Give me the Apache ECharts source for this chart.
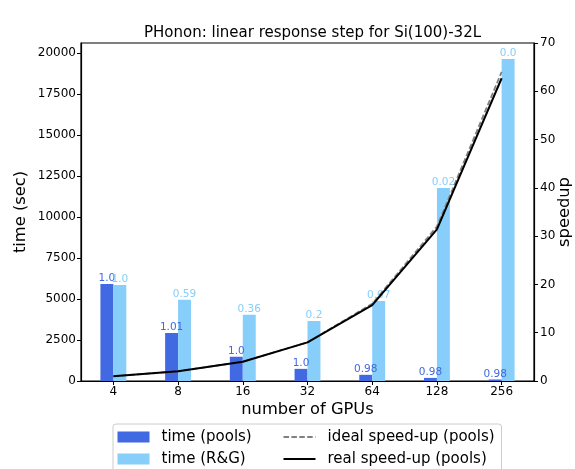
<!DOCTYPE html>
<html>
<head>
<meta charset="utf-8">
<title>PHonon: linear response step for Si(100)-32L</title>
<script src="https://cdn.jsdelivr.net/npm/echarts@6/dist/echarts.min.js"></script>
<style>
  html, body { margin: 0; padding: 0; background: #fff; }
  #chart { width: 575px; height: 469px; }
</style>
</head>
<body>
<div id="chart"></div>
<script>
// Number of GPUs per run
const gpus = ['4', '8', '16', '32', '64', '128', '256'];

// Wall time (s) of the linear response step
const timePools = [5915, 2930, 1480, 740, 377, 189, 94];
const timeRG = [5850, 4950, 4040, 3660, 4880, 11770, 19640];

// Parallel efficiency printed above each bar
const effPools = ['1.0', '1.01', '1.0', '1.0', '0.98', '0.98', '0.98'];
const effRG = ['1.0', '0.59', '0.36', '0.2', '0.07', '0.02', '0.0'];

// Speed-up relative to 4 GPUs
const idealSpeedup = [1, 2, 4, 8, 16, 32, 64];
const realSpeedup = [1, 2.02, 4.0, 8.0, 15.7, 31.4, 62.7];

// Left axis tick values
const timeTicks = [0, 2500, 5000, 7500, 10000, 12500, 15000, 17500, 20000];

const POOLS = '#4169E1';
const RG = '#87CEFA';
const FONT = 'DejaVu Sans';

const chart = echarts.init(document.getElementById('chart'), null, { renderer: 'canvas' });

const axisLineStyle = { show: true, lineStyle: { color: '#000', width: 1.2 } };
const tickStyle = { show: true, inside: false, length: 4, lineStyle: { color: '#000', width: 1 } };
const legendText = { fontFamily: FONT, fontSize: 15, color: '#000', lineHeight: 15, padding: [0, 0, 0, 7] };

chart.setOption({
  animation: false,
  backgroundColor: '#fff',
  textStyle: { fontFamily: FONT, color: '#000' },
  title: {
    text: 'PHonon: linear response step for Si(100)-32L',
    left: 307.5,
    textAlign: 'center',
    top: 21,
    textStyle: { fontFamily: FONT, fontSize: 15, fontWeight: 'normal', color: '#000' }
  },
  grid: {
    left: 81, right: 41, top: 43, bottom: 88,
    containLabel: false,
    outerBoundsMode: 'none',
    show: true, borderColor: '#000', borderWidth: 1.2, backgroundColor: 'transparent'
  },
  graphic: [{
    type: 'rect',
    z: -1,
    shape: { x: 113, y: 424, width: 388.5, height: 60, r: 3 },
    style: { fill: '#fff', stroke: '#cccccc', lineWidth: 1 }
  }],
  legend: [{
    data: ['time (pools)', 'time (R&G)'],
    orient: 'vertical',
    left: 117.5, top: 429.5, height: 60, padding: 0,
    icon: 'rect',
    itemWidth: 32, itemHeight: 11, itemGap: 7,
    textStyle: legendText
  }, {
    data: ['ideal speed-up (pools)', 'real speed-up (pools)'],
    orient: 'vertical',
    left: 282.5, top: 429.5, height: 60, padding: 0,
    itemWidth: 32, itemHeight: 11, itemGap: 7,
    itemStyle: { color: 'transparent', borderColor: 'transparent', borderWidth: 0, opacity: 0 },
    textStyle: legendText
  }],
  xAxis: {
    type: 'category',
    data: gpus,
    boundaryGap: true,
    name: 'number of GPUs',
    nameLocation: 'middle',
    nameGap: 21,
    nameMoveOverlap: false,
    nameTextStyle: { fontFamily: FONT, fontSize: 16.3, color: '#000' },
    axisLine: axisLineStyle,
    axisTick: Object.assign({}, tickStyle, { alignWithLabel: true }),
    axisLabel: { fontFamily: FONT, fontSize: 12, color: '#000', margin: 5 },
    splitLine: { show: false }
  },
  yAxis: [{
    type: 'value',
    min: 0,
    max: 20622,
    position: 'left',
    name: 'time (sec)',
    nameLocation: 'middle',
    nameGap: 52,
    nameRotate: 90,
    nameMoveOverlap: false,
    nameTextStyle: { fontFamily: FONT, fontSize: 16.3, color: '#000' },
    axisLine: axisLineStyle,
    axisTick: Object.assign({}, tickStyle, { customValues: timeTicks }),
    axisLabel: {
      fontFamily: FONT, fontSize: 12, color: '#000', margin: 5,
      customValues: timeTicks,
      formatter: v => String(v)
    },
    splitLine: { show: false }
  }, {
    type: 'value',
    min: 0,
    max: 70,
    interval: 10,
    position: 'right',
    name: 'speedup',
    nameLocation: 'middle',
    nameGap: 23,
    nameRotate: 90,
    nameMoveOverlap: false,
    nameTextStyle: { fontFamily: FONT, fontSize: 16.3, color: '#000' },
    axisLine: axisLineStyle,
    axisTick: tickStyle,
    axisLabel: { fontFamily: FONT, fontSize: 12, color: '#000', margin: 6 },
    splitLine: { show: false }
  }],
  series: [{
    name: 'time (pools)',
    type: 'bar',
    yAxisIndex: 0,
    data: timePools,
    barWidth: '20%',
    barGap: '0%',
    itemStyle: { color: POOLS },
    z: 2,
    label: {
      show: true, position: 'top', distance: 0,
      fontFamily: FONT, fontSize: 10.5, color: POOLS,
      formatter: p => effPools[p.dataIndex]
    }
  }, {
    name: 'time (R&G)',
    type: 'bar',
    yAxisIndex: 0,
    data: timeRG,
    barWidth: '20%',
    barGap: '0%',
    itemStyle: { color: RG },
    z: 2,
    label: {
      show: true, position: 'top', distance: 0,
      fontFamily: FONT, fontSize: 10.5, color: RG,
      formatter: p => effRG[p.dataIndex]
    }
  }, {
    name: 'ideal speed-up (pools)',
    type: 'line',
    yAxisIndex: 1,
    data: idealSpeedup,
    symbol: 'none',
    lineStyle: { color: '#808080', width: 1.8, type: [5.5, 2.4] },
    itemStyle: { color: '#808080' },
    z: 5
  }, {
    name: 'real speed-up (pools)',
    type: 'line',
    yAxisIndex: 1,
    data: realSpeedup,
    symbol: 'none',
    lineStyle: { color: '#000', width: 2 },
    itemStyle: { color: '#000' },
    z: 6
  }]
});
</script>
</body>
</html>
